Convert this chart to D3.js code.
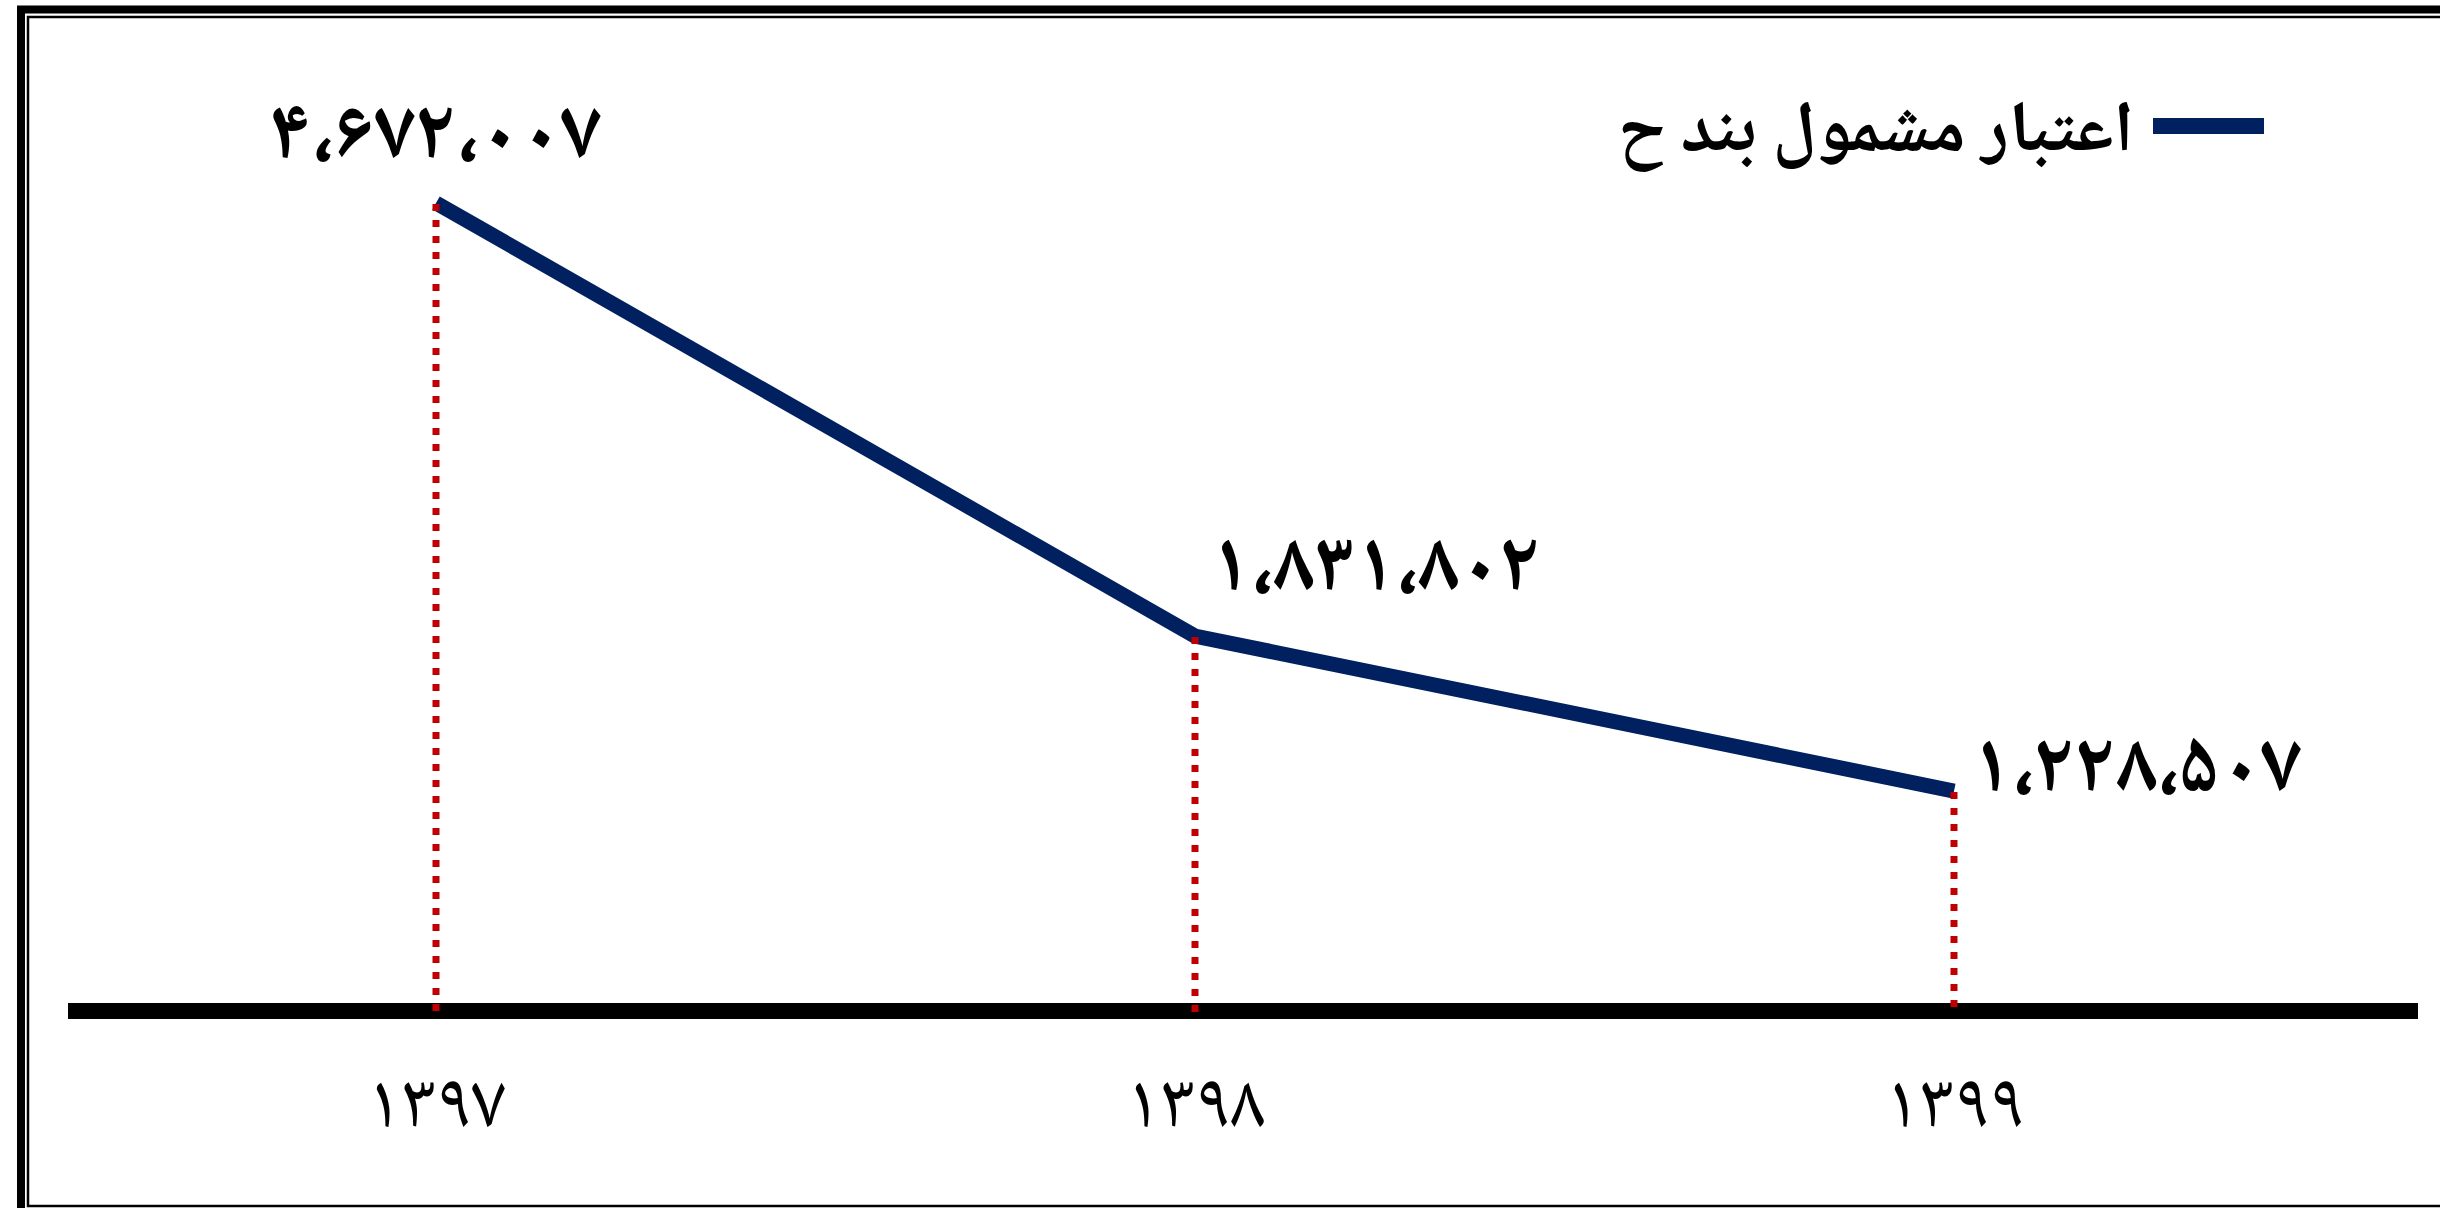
<!DOCTYPE html>
<html>
<head>
<meta charset="utf-8">
<script src="https://cdn.jsdelivr.net/npm/d3@7"></script>
<style>
    html, body { margin: 0; padding: 0; background: #fff; }
    svg { display: block; }
    text { font-family: "Noto Naskh Arabic", "Noto Sans Arabic", "DejaVu Sans", sans-serif; fill: #000; }
</style>
</head>
<body>
<div id="chart"></div>
<script>
// Chart data
const years = [1397, 1398, 1399];
const values = [4672007, 1831802, 1228507];
const seriesName = 'اعتبار مشمول بند ح';

const width = 2440;
const height = 1208;
const lineColor = '#002060';
const dropColor = '#C00000';
const fontStack = '"Noto Naskh Arabic", "Noto Sans Arabic", "DejaVu Sans", sans-serif';

// Persian digits and Arabic comma
const faDigits = '۰۱۲۳۴۵۶۷۸۹';
function toFa(s) {
    return String(s).replace(/\d/g, d => faDigits[d]).replace(/,/g, '،');
}
const fmt = d3.format(',');

// Label placement per point (style only)
const labelPlacement = [
    { anchor: 'middle', dx: 0, dy: -45 },
    { anchor: 'start', dx: 15, dy: -46 },
    { anchor: 'start', dx: 17, dy: 0 }
];

const svg = d3.select('#chart')
    .append('svg')
    .attr('width', width)
    .attr('height', height);

// Page border (double line, cut at right and bottom)
svg.append('path')
    .attr('d', `M21,${height + 10}V9.5H${width + 10}`)
    .attr('fill', 'none')
    .attr('stroke', '#000')
    .attr('stroke-width', 8);

svg.append('path')
    .attr('d', `M${width + 10},17H28V1206H${width + 10}`)
    .attr('fill', 'none')
    .attr('stroke', '#000')
    .attr('stroke-width', 2.5);

// Scales
const x = d3.scalePoint()
    .domain(years)
    .range([436, 1954]);

const y = d3.scalePow()
    .exponent(0.26)
    .domain([641800, d3.max(values)])
    .range([1011, 203]);

const baseY = y(641800);

// Baseline
svg.append('line')
    .attr('x1', 68)
    .attr('x2', 2418)
    .attr('y1', baseY)
    .attr('y2', baseY)
    .attr('stroke', '#000')
    .attr('stroke-width', 16);

// Category labels
const xAxis = svg.append('g')
    .attr('transform', `translate(0,${baseY})`)
    .call(d3.axisBottom(x).tickSize(0).tickPadding(61).tickFormat(d => toFa(d)));

xAxis.select('.domain').remove();
xAxis.selectAll('text')
    .attr('font-family', fontStack)
    .attr('font-size', 78)
    .attr('fill', '#000');

const points = years.map((yr, i) => ({ year: yr, value: values[i], i: i }));

// Series line
const line = d3.line()
    .x(d => x(d.year))
    .y(d => y(d.value));

svg.append('path')
    .datum(points)
    .attr('d', line)
    .attr('fill', 'none')
    .attr('stroke', lineColor)
    .attr('stroke-width', 15)
    .attr('stroke-linejoin', 'miter');

// Drop lines
svg.append('g')
    .selectAll('line')
    .data(points)
    .join('line')
    .attr('x1', d => x(d.year))
    .attr('x2', d => x(d.year))
    .attr('y1', d => y(d.value) + 1)
    .attr('y2', baseY + 1)
    .attr('stroke', dropColor)
    .attr('stroke-width', 7)
    .attr('stroke-dasharray', '7 9');

// Value labels
svg.append('g')
    .selectAll('text')
    .data(points)
    .join('text')
    .attr('x', d => x(d.year) + labelPlacement[d.i].dx)
    .attr('y', d => y(d.value) + labelPlacement[d.i].dy)
    .attr('text-anchor', d => labelPlacement[d.i].anchor)
    .attr('font-size', 84)
    .attr('font-weight', 'bold')
    .text(d => toFa(fmt(d.value)));

// Legend
const legend = svg.append('g');
legend.append('line')
    .attr('x1', 2153)
    .attr('x2', 2264)
    .attr('y1', 126)
    .attr('y2', 126)
    .attr('stroke', lineColor)
    .attr('stroke-width', 16);

legend.append('text')
    .attr('x', 2134)
    .attr('y', 151)
    .attr('text-anchor', 'end')
    .attr('font-size', 72)
    .attr('font-weight', 'bold')
    .text(seriesName);
</script>
</body>
</html>
